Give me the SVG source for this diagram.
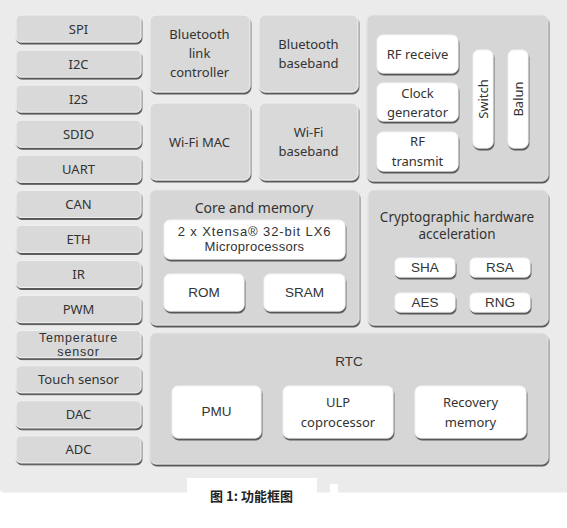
<svg xmlns="http://www.w3.org/2000/svg" width="567" height="528" viewBox="0 0 567 528">
<defs>
<filter id="sh" x="-10%" y="-10%" width="125%" height="140%">
<feDropShadow dx="0.8" dy="2" stdDeviation="0.6" flood-color="#4a4a4a" flood-opacity="0.9"/>
</filter>
</defs>
<style>
.bg{fill:#ebebeb}
.lb{fill:#d9d9d9;stroke:#f1f1f1;stroke-width:1;filter:url(#sh)}
.pn{fill:#d6d6d6;stroke:#e4e4e4;stroke-width:1;filter:url(#sh)}
.wb{fill:#ffffff;stroke:#f4f4f4;stroke-width:1;filter:url(#sh)}
text{font-family:"Noto Sans","Open Sans",sans-serif;font-size:13px;fill:#333;text-anchor:middle;dominant-baseline:central}
.a{font-family:"Liberation Sans",Arial,sans-serif;font-size:13.5px}
.t{font-size:14px}
.s{font-family:"Liberation Sans",Arial,sans-serif;font-size:12.5px;letter-spacing:0.8px}
.x{font-family:"Liberation Sans",Arial,sans-serif;font-size:13px}
.m{font-size:13.5px}
.cap{font-family:"Noto Sans CJK SC",sans-serif;font-weight:bold;font-size:13px;fill:#222}
</style>
<path class="bg" d="M0,0 H567 V492.5 H4 Q0,492.5 0,488.5 Z"/>
<rect x="187" y="478" width="130" height="50" fill="#fff"/>
<rect x="330" y="484" width="8" height="9" fill="#fff"/>

<g id="spi"><rect class="lb" x="16" y="15" width="125" height="27" rx="5"/><text x="78.5" y="28.5">SPI</text></g>
<g id="i2c"><rect class="lb" x="16" y="50.1" width="125" height="27" rx="5"/><text x="78.5" y="63.6">I2C</text></g>
<g id="i2s"><rect class="lb" x="16" y="85.1" width="125" height="27" rx="5"/><text x="78.5" y="98.6">I2S</text></g>
<g id="sdio"><rect class="lb" x="16" y="120.2" width="125" height="27" rx="5"/><text x="78.5" y="133.7">SDIO</text></g>
<g id="uart"><rect class="lb" x="16" y="155.3" width="125" height="27" rx="5"/><text x="78.5" y="168.8">UART</text></g>
<g id="can"><rect class="lb" x="16" y="190.4" width="125" height="27" rx="5"/><text x="78.5" y="203.9">CAN</text></g>
<g id="eth"><rect class="lb" x="16" y="225.4" width="125" height="27" rx="5"/><text x="78.5" y="238.9">ETH</text></g>
<g id="ir"><rect class="lb" x="16" y="260.5" width="125" height="27" rx="5"/><text x="78.5" y="274">IR</text></g>
<g id="pwm"><rect class="lb" x="16" y="295.6" width="125" height="27" rx="5"/><text x="78.5" y="309.1">PWM</text></g>
<g id="temp"><rect class="lb" x="16" y="330.6" width="125" height="27" rx="5"/><text class="s" x="78.5" y="337.5">Temperature</text><text class="s" x="78.5" y="351.5">sensor</text></g>
<g id="touch"><rect class="lb" x="16" y="365.7" width="125" height="27" rx="5"/><text x="78.5" y="379.2">Touch sensor</text></g>
<g id="dac"><rect class="lb" x="16" y="400.8" width="125" height="27" rx="5"/><text x="78.5" y="414.3">DAC</text></g>
<g id="adc"><rect class="lb" x="16" y="435.8" width="125" height="27" rx="5"/><text x="78.5" y="449.3">ADC</text></g>

<g id="bt-link"><rect class="lb" x="150" y="15" width="100" height="77" rx="6"/><text x="199.5" y="34">Bluetooth</text><text x="199.5" y="53">link</text><text x="199.5" y="72">controller</text></g>
<g id="bt-baseband"><rect class="lb" x="259" y="15" width="99" height="77" rx="6"/><text x="308.5" y="44">Bluetooth</text><text x="308.5" y="63">baseband</text></g>
<g id="wifi-mac"><rect class="lb" x="150" y="103" width="100" height="77" rx="6"/><text x="199.5" y="141.5">Wi-Fi MAC</text></g>
<g id="wifi-baseband"><rect class="lb" x="259" y="103" width="99" height="77" rx="6"/><text x="308.5" y="131.5">Wi-Fi</text><text x="308.5" y="150.5">baseband</text></g>

<g id="rf"><rect class="pn" x="367" y="15" width="181" height="166" rx="6"/>
<g id="rf-receive"><rect class="wb" x="377" y="35" width="81" height="38" rx="6"/><text x="417.5" y="53.5">RF receive</text></g>
<g id="clock"><rect class="wb" x="377" y="83" width="81" height="38" rx="6"/><text x="417.5" y="92.7">Clock</text><text x="417.5" y="112.3">generator</text></g>
<g id="rf-transmit"><rect class="wb" x="377" y="132" width="81" height="39" rx="6"/><text x="417.5" y="141">RF</text><text x="417.5" y="160.5">transmit</text></g>
<g id="switch"><rect class="wb" x="473" y="50" width="20" height="98" rx="6"/><text transform="translate(483,99) rotate(-90)">Switch</text></g>
<g id="balun"><rect class="wb" x="508" y="50" width="20" height="98" rx="6"/><text transform="translate(518,99) rotate(-90)">Balun</text></g>
</g>

<g id="core"><rect class="pn" x="150" y="190" width="209" height="135" rx="6"/><text class="t" x="254" y="207">Core and memory</text>
<g id="xtensa"><rect class="wb" x="164" y="220" width="181" height="39" rx="6"/><text class="x" x="254.5" y="231.5" letter-spacing="0.9">2 x Xtensa® 32-bit LX6</text><text class="x" x="254.5" y="246.5" letter-spacing="0.3">Microprocessors</text></g>
<g id="rom"><rect class="wb" x="164" y="274" width="80" height="37" rx="6"/><text class="a" x="204" y="292.5">ROM</text></g>
<g id="sram"><rect class="wb" x="264" y="274" width="81" height="37" rx="6"/><text class="a" x="304.5" y="292.5">SRAM</text></g>
</g>

<g id="crypto"><rect class="pn" x="368" y="190" width="180" height="135" rx="6"/><text class="m" x="457" y="217">Cryptographic hardware</text><text class="m" x="457" y="233.5">acceleration</text>
<g id="sha"><rect class="wb" x="395" y="258" width="60" height="19" rx="5"/><text class="a" x="425" y="267">SHA</text></g>
<g id="rsa"><rect class="wb" x="470" y="258" width="60" height="19" rx="5"/><text class="a" x="500" y="267">RSA</text></g>
<g id="aes"><rect class="wb" x="395" y="293" width="60" height="19" rx="5"/><text class="a" x="425" y="302">AES</text></g>
<g id="rng"><rect class="wb" x="470" y="293" width="60" height="19" rx="5"/><text class="a" x="500" y="302">RNG</text></g>
</g>

<g id="rtc"><rect class="pn" x="150" y="333" width="398" height="131" rx="6"/><text class="a" x="349" y="361" font-size="15">RTC</text>
<g id="pmu"><rect class="wb" x="172" y="386" width="89" height="52" rx="6"/><text class="a" x="216.5" y="411.5">PMU</text></g>
<g id="ulp"><rect class="wb" x="283" y="386" width="110" height="52" rx="6"/><text x="338" y="401.5">ULP</text><text x="338" y="421.5">coprocessor</text></g>
<g id="recovery"><rect class="wb" x="415" y="386" width="111" height="52" rx="6"/><text x="470.5" y="401.5">Recovery</text><text x="470.5" y="421.5">memory</text></g>
</g>

<g id="connectors"></g>
<text class="cap" x="251.5" y="495">图 1: 功能框图</text>
</svg>
